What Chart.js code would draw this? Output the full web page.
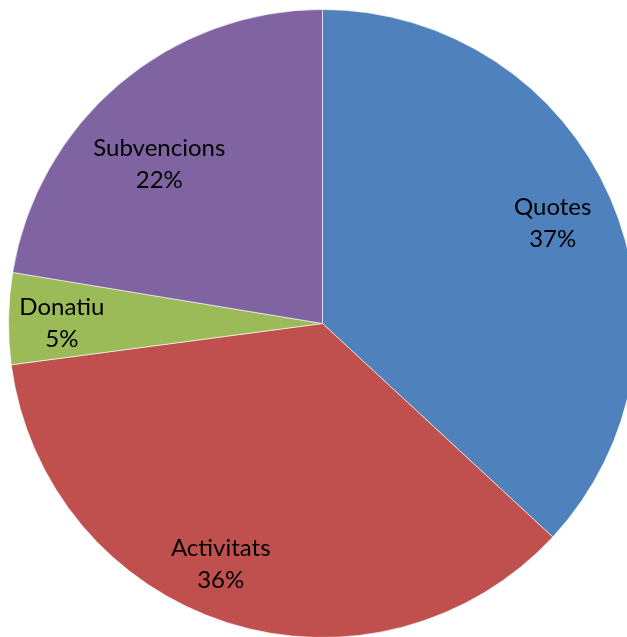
<!DOCTYPE html>
<html>
<head>
<meta charset="utf-8">
<script src="https://cdn.jsdelivr.net/npm/chart.js@4.4.0/dist/chart.umd.min.js"></script>
<style>
  html, body { margin: 0; padding: 0; background: #fff; overflow: hidden; width: 627px; height: 637px; }
  #pie { position: absolute; left: 8px; top: 9px; }
</style>
</head>
<body>
<canvas id="pie" width="629" height="629"></canvas>
<script>
// Income breakdown (share of total)
const categories = ['Quotes', 'Activitats', 'Donatiu', 'Subvencions'];
const shares = [36.9, 36.0, 4.7, 22.4];
const shareLabels = ['37%', '36%', '5%', '22%'];

const sliceColors = ['#4F81BD', '#C0504D', '#9BBB59', '#8064A2'];
// label placement inside each slice: [fraction of radius, fraction of the slice angle]
const labelPlacement = [[0.80, 0.50], [0.831, 0.541], [0.83, 0.45], [0.726, 0.433]];

// Draw the two-line labels (name + percent) inside the slices
const sliceLabels = {
  id: 'sliceLabels',
  afterDatasetsDraw(chart) {
    const ctx = chart.ctx;
    const meta = chart.getDatasetMeta(0);
    ctx.save();
    ctx.fillStyle = '#000';
    ctx.font = '24px Lato';
    ctx.textAlign = 'center';
    ctx.textBaseline = 'middle';
    meta.data.forEach((arc, i) => {
      const [rf, af] = labelPlacement[i];
      const a = arc.startAngle + (arc.endAngle - arc.startAngle) * af;
      const r = arc.outerRadius * rf;
      const x = arc.x + r * Math.cos(a);
      const y = arc.y + r * Math.sin(a);
      ctx.fillText(categories[i], x, y - 16);
      ctx.fillText(shareLabels[i], x, y + 16);
    });
    ctx.restore();
  }
};

new Chart(document.getElementById('pie'), {
  type: 'pie',
  data: {
    labels: categories,
    datasets: [{
      data: shares,
      backgroundColor: sliceColors,
      borderColor: 'rgba(255,255,255,0.6)',
      borderWidth: 1
    }]
  },
  options: {
    responsive: false,
    animation: false,
    layout: { padding: 0 },
    plugins: {
      legend: { display: false },
      tooltip: { enabled: false }
    }
  },
  plugins: [sliceLabels]
});
</script>
</body>
</html>
